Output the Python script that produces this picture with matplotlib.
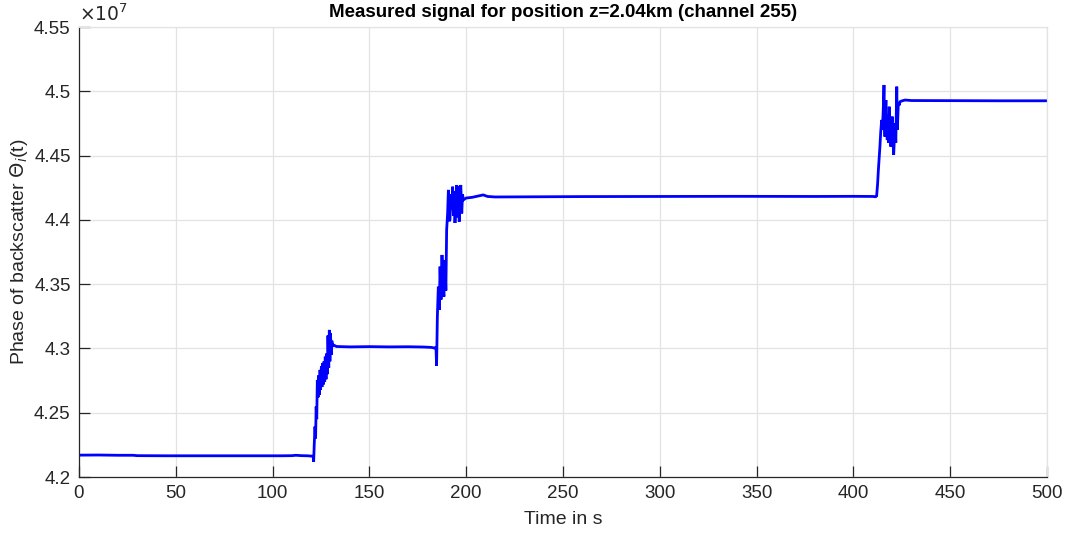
import matplotlib
matplotlib.use("Agg")
import matplotlib.pyplot as plt
from matplotlib.ticker import FuncFormatter

plt.rcParams['font.family'] = ['Liberation Sans', 'DejaVu Sans']

# Time stamps (s) and measured phase (units of 1e7) for channel 255
time_s = [
    0, 10, 20, 28, 30, 45, 60, 75, 90, 105, 110, 112, 113, 115, 118, 120.5,
    121.0, 121.2, 121.5, 121.9, 122.2, 122.5, 122.8, 123.1, 123.5, 123.8,
    124.2, 124.5, 124.8, 125.2, 125.5, 125.9, 126.2, 126.6, 126.9, 127.2,
    127.6, 127.9, 128.3, 128.6, 129.0, 129.3, 129.6, 129.9, 130.3, 130.6,
    131.0, 131.4, 133, 140, 150, 160, 170, 178, 182, 184.0, 184.4, 184.7,
    185.1, 185.6, 186.1, 186.5, 187.0, 187.5, 187.9, 188.5, 189.0, 189.5,
    189.9, 190.4, 190.8, 191.2, 191.6, 192.1, 192.6, 193.0, 193.4, 193.8,
    194.2, 194.7, 195.1, 195.6, 196.0, 196.4, 196.8, 197.2, 197.7, 198.1,
    198.5, 200, 203, 206, 208.8, 211, 215, 230, 260, 300, 340, 380, 400,
    410, 411.5, 412.0, 412.5, 412.9, 413.3, 413.7, 414.1, 414.6, 415.0,
    415.4, 415.8, 416.1, 416.3, 416.6, 416.8, 417.1, 417.5, 417.8, 418.1,
    418.5, 418.9, 419.3, 419.7, 420.1, 420.5, 420.8, 421.2, 421.5, 421.9,
    422.2, 422.4, 422.7, 423.2, 423.6, 424.1, 425, 426.7, 430, 450, 475, 500,
]
phase_e7 = [
    4.2170, 4.2171, 4.2169, 4.2169, 4.2166, 4.2165, 4.2165, 4.2165, 4.2165,
    4.2165, 4.2166, 4.2169, 4.2168, 4.2166, 4.2165, 4.2162,
    4.2159, 4.2118, 4.2250, 4.2392, 4.2300, 4.2547, 4.2450, 4.2755, 4.2620,
    4.2790, 4.2640, 4.2833, 4.2680, 4.2860, 4.2700, 4.2887, 4.2720, 4.2900,
    4.2740, 4.2936, 4.2760, 4.2960, 4.2800, 4.3100, 4.2850, 4.3144, 4.2900,
    4.3120, 4.2950, 4.3060, 4.3020, 4.3027, 4.3015, 4.3012, 4.3014, 4.3012,
    4.3013, 4.3011, 4.3008, 4.3002, 4.3010, 4.2864,
    4.3247, 4.3480, 4.3300, 4.3636, 4.3380, 4.3727, 4.3500, 4.3403, 4.3688,
    4.3450, 4.3921, 4.4050, 4.4233, 4.3990, 4.4000, 4.4200, 4.4080, 4.4258,
    4.4030, 4.4220, 4.3976, 4.4150, 4.4271, 4.4020, 4.4260, 4.3986, 4.4200,
    4.4271, 4.4050, 4.4200, 4.4155, 4.4170, 4.4175, 4.4185, 4.4194, 4.4182,
    4.4178, 4.4179, 4.4181, 4.4182, 4.4183, 4.4182, 4.4183,
    4.4182, 4.4180, 4.4186, 4.4280, 4.4388, 4.4480, 4.4570, 4.4680, 4.4777,
    4.4700, 4.4850, 4.5049, 4.4750, 4.4647, 4.4850, 4.4932, 4.4700, 4.4621,
    4.4780, 4.4600, 4.4880, 4.4700, 4.4570, 4.4750, 4.4803, 4.4600, 4.4505,
    4.4650, 4.4751, 4.4600, 4.4850, 4.5036, 4.4700, 4.4907, 4.4890, 4.4919,
    4.4925, 4.4932, 4.4928, 4.4927, 4.4926, 4.4926,
]

x_ticks = list(range(0, 501, 50))
y_ticks = [4.2, 4.25, 4.3, 4.35, 4.4, 4.45, 4.5, 4.55]

axis_gray = '#262626'
text_gray = '#262626'

fig = plt.figure(figsize=(10.8, 5.33), dpi=100)
ax = fig.add_axes([79 / 1080, 56 / 533, (1047 - 79) / 1080, (477 - 27) / 533])

ax.plot(time_s, phase_e7, color='#0000ff', linewidth=2.0, solid_joinstyle='miter')

ax.set_xlim(0, 500)
ax.set_ylim(4.2, 4.55)
ax.set_xticks(x_ticks)
ax.set_yticks(y_ticks)
ax.yaxis.set_major_formatter(FuncFormatter(lambda v, _: f"{v:g}"))
ax.xaxis.set_major_formatter(FuncFormatter(lambda v, _: f"{v:g}"))

ax.grid(True, color='#e3e3e3', linewidth=0.9)
ax.set_axisbelow(True)

for side in ('top', 'right'):
    ax.spines[side].set_color('#e3e3e3')
    ax.spines[side].set_linewidth(0.9)
for side in ('left', 'bottom'):
    ax.spines[side].set_color(axis_gray)
    ax.spines[side].set_linewidth(0.9)

ax.tick_params(axis='both', direction='in', length=8, width=0.9,
               color=axis_gray, labelcolor=text_gray, labelsize=13.5, pad=6)

ax.set_xlabel('Time in s', fontsize=14, color=text_gray, labelpad=6)
ax.set_ylabel(r'Phase of backscatter $\Theta_i$(t)', fontsize=14, color=text_gray, labelpad=3)
ax.set_title('Measured signal for position z=2.04km (channel 255)',
             fontsize=13.5, fontweight='bold', color='black', pad=7)

ax.text(0.0, 1.005, r'$\times10^{7}$', transform=ax.transAxes, fontsize=13.5,
        color=text_gray, ha='left', va='bottom')

fig.savefig('out.png', dpi=100)
